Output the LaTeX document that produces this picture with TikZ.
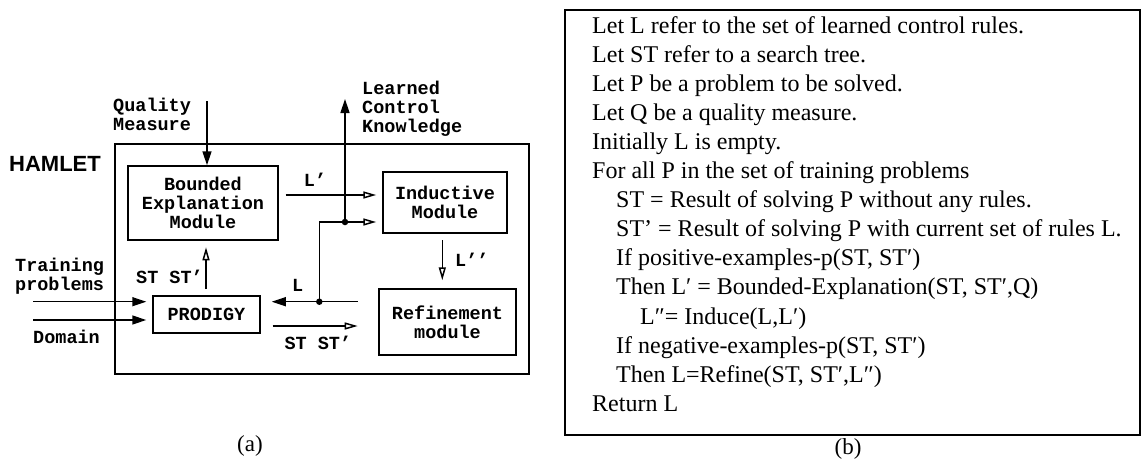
\documentclass[tikz,border=0pt]{standalone}
\usepackage{fontspec}
\setmainfont{Liberation Serif}
\newfontfamily\codefont{Liberation Mono}
\newfontfamily\headfont{Liberation Sans}
\usetikzlibrary{arrows.meta}

\tikzset{
  wire/.style={line width=1.5pt},
  fillhead/.style={wire,-{Triangle[length=14pt,width=9pt]}},
  openhead/.style={wire,-{Triangle[open,length=13pt,width=7pt]}},
  code/.style={inner sep=0pt, align=center,
    font=\codefont\bfseries\fontsize{18.5}{18.8}\selectfont},
  codel/.style={code, align=left},
  module/.style={code, draw, line width=1.5pt},
  junction/.style={circle, fill=black, inner sep=0pt, minimum size=6.5pt},
  caption/.style={inner sep=0pt, font=\fontsize{23}{26}\selectfont},
}

\begin{document}
\begin{tikzpicture}[x=1pt,y=-1pt]
\useasboundingbox (0,0) rectangle (1142,466);

% ---------------- HAMLET architecture ----------------
\node[draw, line width=1.5pt, inner sep=0pt, minimum width=414pt,
      minimum height=230pt, anchor=north west] (hamlet) at (114,143) {};
\node[inner sep=0pt, anchor=base west,
      font=\headfont\bfseries\fontsize{22}{24}\selectfont] (title) at (9,171) {HAMLET};

\node[module, minimum width=150pt, minimum height=74pt] (bem) at (203,203)
  {Bounded\\Explanation\\Module};
\node[module, minimum width=124pt, minimum height=61pt] (ind) at (445,202.5)
  {Inductive\\Module};
\node[module, minimum width=137pt, minimum height=66pt] (ref) at (447.5,322)
  {Refinement\\module};
\node[module, minimum width=107pt, minimum height=37pt] (prod) at (206.5,314.5)
  {PRODIGY};

% outside inputs and outputs (base = baseline of the last line)
\node[codel, anchor=base west] (qlab) at (113,130) {Quality\\Measure};
\node[codel, anchor=base west] (klab) at (362,132) {Learned\\Control\\Knowledge};
\node[codel, anchor=base west] (tlab) at (15,290.5) {Training\\problems};
\node[codel, anchor=base west] (dlab) at (33,343) {Domain};

\coordinate (qtop) at (207,101);
\draw[fillhead] (qtop) -- (qtop |- bem.north);

\coordinate (tin) at (33,301.7);
\coordinate (din) at (33,320);
\draw[fillhead, shorten >=6pt] (tin) -- (tin -| prod.west);
\draw[fillhead, shorten >=6pt] (din) -- (din -| prod.west);

% PRODIGY -> Bounded Explanation Module
\coordinate (st1) at (206,296);
\draw[openhead, shorten <=7pt, shorten >=6.5pt] (st1) -- (st1 |- bem.south);
\node[code, anchor=base east] (st1lab) at (203,283) {ST ST’};

% Bounded Explanation Module -> Inductive Module
\coordinate (lp0) at (285.7,195);
\draw[openhead, shorten >=6pt] (lp0) -- (lp0 -| ind.west);
\node[code, anchor=base] (lplab) at (315,186.7) {L’};

% Inductive Module -> Refinement module
\coordinate (lpp0) at (442.3,233);
\draw[openhead, shorten <=7pt, shorten >=8pt] (lpp0) -- (lpp0 |- ref.north);
\node[code, anchor=base west] (lpplab) at (455,266.7) {L’’};

% PRODIGY -> Refinement module
\coordinate (st2a) at (272.7,326);
\coordinate (st2b) at (357.7,326);
\draw[openhead] (st2a) -- (st2b);
\node[code, anchor=base west] (st2lab) at (284.3,349.3) {ST ST’};

% rules L fed back to PRODIGY and to the Inductive Module
\coordinate (lsrc) at (357.7,301.7);
\node[junction] (jl) at (319.3,301.7) {};
\node[junction] (jk) at (345,222) {};
\coordinate (ktop) at (345,99);
\draw[fillhead, shorten >=11pt] (lsrc) -- (lsrc -| prod.east);
\draw[openhead, shorten >=6pt] (jl.center) -- (jl.center |- jk.center) -- (jk.center -| ind.west);
\draw[fillhead] (jk.center) -- (ktop);
\node[code, anchor=base] (llab) at (297.7,291) {L};

\node[caption, anchor=base] (capa) at (250,451) {(a)};

% ---------------- Learning algorithm ----------------
\node[draw, line width=2pt, inner sep=0pt, minimum width=575pt,
      minimum height=425pt, anchor=north west] (algbox) at (564,9) {};
\node[inner sep=0pt, anchor=base west, align=left,
      font=\fontsize{24}{29.1}\selectfont] (alg) at (592,411.3) {%
Let L refer to the set of learned control rules.\\
Let ST refer to a search tree.\\
Let P be a problem to be solved.\\
Let Q be a quality measure.\\
Initially L is empty.\\
For all P in the set of training problems\\
\hspace*{24pt}ST = Result of solving P without any rules.\\
\hspace*{24pt}ST’ = Result of solving P with current set of rules L.\\
\hspace*{24pt}If positive-examples-p(ST, ST′)\\
\hspace*{24pt}Then L′ = Bounded-Explanation(ST, ST′,Q)\\
\hspace*{48pt}L″= Induce(L,L′)\\
\hspace*{24pt}If negative-examples-p(ST, ST′)\\
\hspace*{24pt}Then L=Refine(ST, ST′,L″)\\
Return L};

\node[caption, anchor=base] (capb) at (848,454) {(b)};
\end{tikzpicture}
\end{document}
